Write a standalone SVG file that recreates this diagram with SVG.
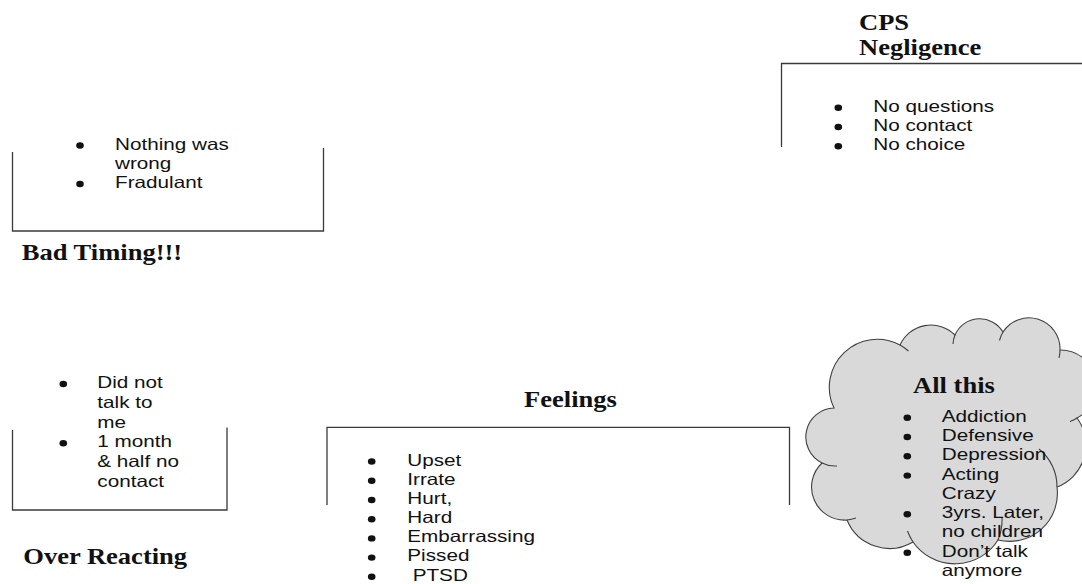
<svg xmlns="http://www.w3.org/2000/svg" width="1082" height="584" viewBox="0 0 1082 584">
  <style>
    .frame { fill: none; stroke: #3a3a3a; stroke-width: 1.3; }
    .title { font-family: "Liberation Serif", "Times New Roman", serif; font-weight: bold; font-size: 22.5px; fill: #111; }
    .item { font-family: "Liberation Sans", Arial, sans-serif; font-size: 16.3px; fill: #111; }
    .dot { fill: #111; }
    .cloud { fill: #d9d9d9; stroke: #404040; stroke-width: 1.1; }
    .seam { fill: none; stroke: #404040; stroke-width: 1.1; }
  </style>
  <defs>
    <ellipse id="dot" cx="0" cy="0" rx="3.8" ry="3.2"/>
  </defs>

  <rect width="1082" height="584" fill="#ffffff"/>

  <g id="connectors"/>

  <!-- CPS Negligence: open-bottom frame at the top right -->
  <g id="node-cps">
    <path class="frame" d="M781.5,147 V63.5 H1082"/>
    <text class="title" transform="translate(859,30) scale(1.18 1)">CPS<tspan x="0" dy="25">Negligence</tspan></text>
    <use href="#dot" class="dot" x="838.3" y="107.7"/>
    <use href="#dot" class="dot" x="838.3" y="127"/>
    <use href="#dot" class="dot" x="838.3" y="146.3"/>
    <text class="item" transform="translate(873.3,111.7) scale(1.27 1)">
      <tspan x="0" dy="0">No questions</tspan>
      <tspan x="0" dy="19.3">No contact</tspan>
      <tspan x="0" dy="19.3">No choice</tspan>
    </text>
  </g>

  <!-- Bad Timing!!! -->
  <g id="node-bad-timing">
    <path class="frame" d="M12.5,152 V231 H323.5 V148"/>
    <use href="#dot" class="dot" x="80" y="145.5"/>
    <use href="#dot" class="dot" x="80" y="184"/>
    <text class="item" transform="translate(115,150) scale(1.27 1)">
      <tspan x="0" dy="0">Nothing was</tspan>
      <tspan x="0" dy="19.2">wrong</tspan>
      <tspan x="0" dy="19.2">Fradulant</tspan>
    </text>
    <text class="title" transform="translate(21.7,260) scale(1.18 1)">Bad Timing!!!</text>
  </g>

  <!-- Over Reacting -->
  <g id="node-over-reacting">
    <path class="frame" d="M12.5,430 V510 H227 V427.5"/>
    <use href="#dot" class="dot" x="63.3" y="384"/>
    <use href="#dot" class="dot" x="63.3" y="443.3"/>
    <text class="item" transform="translate(97.3,388.3) scale(1.27 1)">
      <tspan x="0" dy="0">Did not</tspan>
      <tspan x="0" dy="19.65">talk to</tspan>
      <tspan x="0" dy="19.65">me</tspan>
      <tspan x="0" dy="19.65">1 month</tspan>
      <tspan x="0" dy="19.65">&amp; half no</tspan>
      <tspan x="0" dy="19.65">contact</tspan>
    </text>
    <text class="title" transform="translate(23.3,563.5) scale(1.18 1)">Over Reacting</text>
  </g>

  <!-- Feelings: open-bottom frame in the middle -->
  <g id="node-feelings">
    <path class="frame" d="M327,505 V427.3 H789.5 V505"/>
    <text class="title" transform="translate(524,406.7) scale(1.18 1)">Feelings</text>
    <use href="#dot" class="dot" x="371.7" y="461.5"/>
    <use href="#dot" class="dot" x="371.7" y="480.7"/>
    <use href="#dot" class="dot" x="371.7" y="500"/>
    <use href="#dot" class="dot" x="371.7" y="519.2"/>
    <use href="#dot" class="dot" x="371.7" y="538.4"/>
    <use href="#dot" class="dot" x="371.7" y="557.6"/>
    <use href="#dot" class="dot" x="371.7" y="576.8"/>
    <text class="item" transform="translate(407.3,465.5) scale(1.27 1)">
      <tspan x="0" dy="0">Upset</tspan>
      <tspan x="0" dy="19.2">Irrate</tspan>
      <tspan x="0" dy="19.2">Hurt,</tspan>
      <tspan x="0" dy="19.2">Hard</tspan>
      <tspan x="0" dy="19.2">Embarrassing</tspan>
      <tspan x="0" dy="19.2">Pissed</tspan>
      <tspan x="4.2" dy="19.2">PTSD</tspan>
    </text>
  </g>

  <!-- All this: grey cloud at the bottom right -->
  <g id="node-all-this">
    <path class="cloud" d="M834,408
      A48,48 0 0 1 900,345
      A34,34 0 0 1 955,335
      A27,27 0 0 1 1003,332
      A31,31 0 0 1 1060,350
      A36,36 0 0 1 1077,418
      A45,45 0 0 1 1057,487
      A48,48 0 0 1 998,540
      A51,51 0 0 1 913,542
      A46,46 0 0 1 847,520
      A33,33 0 0 1 822,463
      A29,29 0 0 1 834,408 Z"/>
    <path class="seam" d="M900,345 A48,48 0 0 1 908.5,351
      M955,335 A27,27 0 0 0 953,344
      M1003,332 A31,31 0 0 0 999.5,340.5
      M1060,350 A31,31 0 0 1 1059,358
      M1077,418 A36,36 0 0 1 1070,421.5
      M1057,487 A48,48 0 0 0 1039,449
      M998,540 A51,51 0 0 0 1002,517
      M913,542 A51,51 0 0 1 907.5,531
      M847,520 A33,33 0 0 0 856,518
      M822,463 A29,29 0 0 0 837,466"/>
    <text class="title" transform="translate(913,393.3) scale(1.18 1)">All this</text>
    <use href="#dot" class="dot" x="907.3" y="417.7"/>
    <use href="#dot" class="dot" x="907.3" y="437"/>
    <use href="#dot" class="dot" x="907.3" y="456.3"/>
    <use href="#dot" class="dot" x="907.3" y="475.6"/>
    <use href="#dot" class="dot" x="907.3" y="514.2"/>
    <use href="#dot" class="dot" x="907.3" y="552.8"/>
    <text class="item" transform="translate(941.7,421.7) scale(1.27 1)">
      <tspan x="0" dy="0">Addiction</tspan>
      <tspan x="0" dy="19.3">Defensive</tspan>
      <tspan x="0" dy="19.3">Depression</tspan>
      <tspan x="0" dy="19.3">Acting</tspan>
      <tspan x="0" dy="19.3">Crazy</tspan>
      <tspan x="0" dy="19.3">3yrs. Later,</tspan>
      <tspan x="0" dy="19.3">no children</tspan>
      <tspan x="0" dy="19.3">Don’t talk</tspan>
      <tspan x="0" dy="19.3">anymore</tspan>
    </text>
  </g>
</svg>
